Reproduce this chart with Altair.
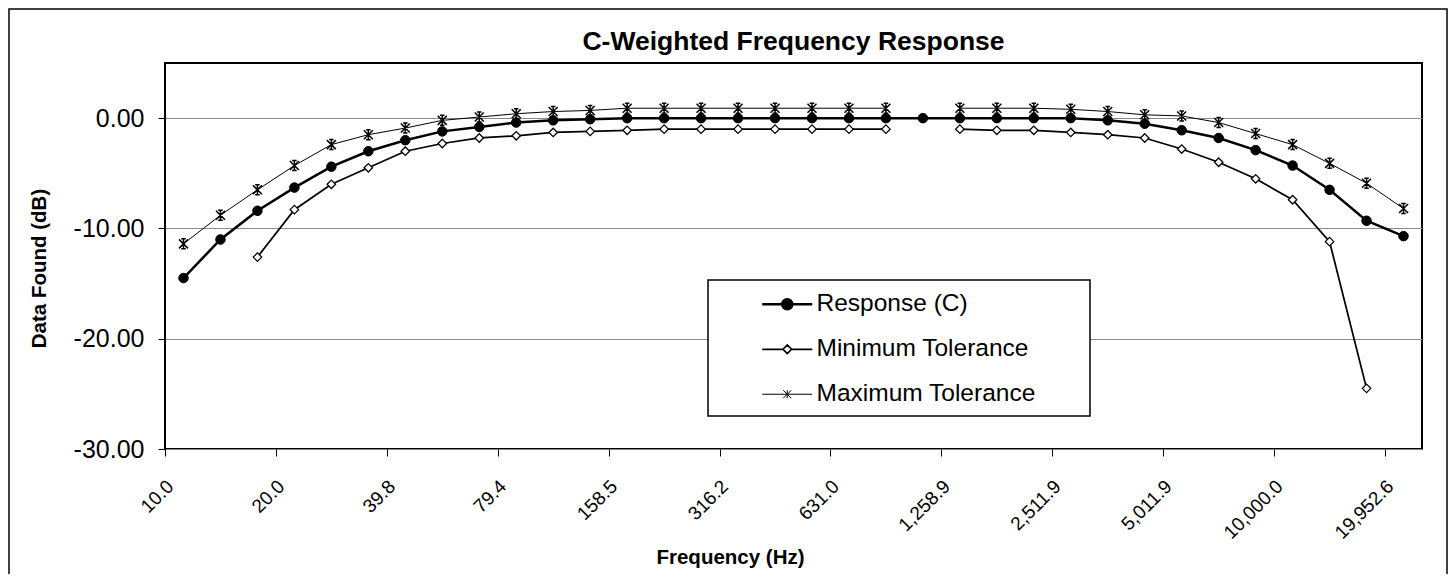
import altair as alt
import pandas as pd

FONT = "Liberation Sans"

freq_labels = ["10.0", "12.6", "15.8", "20.0", "25.1", "31.6", "39.8", "50.1", "63.1",
               "79.4", "100.0", "125.9", "158.5", "199.5", "251.2", "316.2", "398.1",
               "501.2", "631.0", "794.3", "1,000.0", "1,258.9", "1,584.9", "1,995.3",
               "2,511.9", "3,162.3", "3,981.1", "5,011.9", "6,309.6", "7,943.3",
               "10,000.0", "12,589.3", "15,848.9", "19,952.6"]

response = [-14.5, -11.0, -8.4, -6.3, -4.4, -3.0, -2.0, -1.2, -0.8, -0.4, -0.2, -0.1,
            0.0, 0.0, 0.0, 0.0, 0.0, 0.0, 0.0, 0.0, 0.0, 0.0, 0.0, 0.0, 0.0, -0.2,
            -0.5, -1.1, -1.8, -2.9, -4.3, -6.5, -9.3, -10.7]

min_tol = [None, None, -12.6, -8.3, -6.0, -4.5, -3.0, -2.3, -1.8, -1.6, -1.3, -1.2,
           -1.1, -1.0, -1.0, -1.0, -1.0, -1.0, -1.0, -1.0, None, -1.0, -1.1, -1.1,
           -1.3, -1.5, -1.8, -2.8, -4.0, -5.5, -7.4, -11.2, -24.5, None]

max_tol = [-11.4, -8.8, -6.5, -4.3, -2.4, -1.5, -0.9, -0.2, 0.1, 0.4, 0.6, 0.7,
           0.9, 0.9, 0.9, 0.9, 0.9, 0.9, 0.9, 0.9, None, 0.9, 0.9, 0.9, 0.8, 0.6,
           0.3, 0.2, -0.4, -1.4, -2.4, -4.1, -5.9, -8.2]

series_names = ["Response (C)", "Minimum Tolerance", "Maximum Tolerance"]
tick_positions = list(range(0, len(freq_labels), 3))
y_ticks = [0, -10, -20, -30]

rows = []
for name, vals in zip(series_names, [response, min_tol, max_tol]):
    for i, (f, v) in enumerate(zip(freq_labels, vals)):
        rows.append({"freq": f, "idx": i, "series": name, "value": v})
df = pd.DataFrame(rows)

label_array = "[" + ",".join("'" + s + "'" for s in freq_labels) + "]"

# marker shapes (unit = half marker size)
plot_shapes = [
    "M0.95,0A0.95,0.95,0,1,1,-0.95,0A0.95,0.95,0,1,1,0.95,0Z",
    "M-0.85,0L0,-0.85L0.85,0L0,0.85Z",
    "M-0.9,-0.9L0.9,0.9M-0.9,0.9L0.9,-0.9M0,-1V1M-0.45,-1H0.45M-0.45,1H0.45",
]
legend_shapes = [
    "M-5,0H5M1,0A1,1,0,1,1,-1,0A1,1,0,1,1,1,0Z",
    "M-5,0H-0.85M0.85,0H5M-0.85,0L0,-0.85L0.85,0L0,0.85Z",
    "M-5,0H5M-0.8,-0.8L0.8,0.8M-0.8,0.8L0.8,-0.8M0,-0.8V0.8",
]
fills = ["black", "white", "black"]
strokes = ["black", "black", "black"]
widths = [2.5, 1, 1]
marker_widths = [1, 1.5, 1.8]

x_enc = alt.X(
    "pos:Q",
    scale=alt.Scale(domain=[0, len(freq_labels)], nice=False, zero=False),
    axis=alt.Axis(
        values=tick_positions, labelExpr=label_array + "[datum.value]",
        labelAngle=-45, labelAlign="right",
        labelBaseline="middle", labelOffset=5, labelPadding=27, tickSize=7,
        tickColor="black", tickWidth=1, domain=False, grid=False,
        labelFont=FONT, labelFontSize=19, labelColor="black", labelOverlap=False,
        labelBound=False, labelFlush=False,
        title="Frequency (Hz)", titleFont=FONT, titleFontSize=20.5,
        titleFontWeight="bold", titleColor="black", titleX=565, titleY=114,
        titleBaseline="alphabetic", titleAlign="center",
    ),
)
y_enc = alt.Y(
    "value:Q",
    scale=alt.Scale(domain=[-30, 5], nice=False, zero=False),
    axis=alt.Axis(
        values=y_ticks, labelExpr="replace(format(datum.value, '.2f'), '\u2212', '-')",
        tickSize=7, tickColor="black", tickWidth=1, labelPadding=14,
        grid=True, gridColor="#8a8a8a", gridWidth=1, domain=False,
        labelFont=FONT, labelFontSize=25, labelColor="black",
        title="Data Found (dB)", titleFont=FONT, titleFontSize=20.5,
        titleFontWeight="bold", titleColor="black", titleX=-120, titleY=205,
        titleAngle=270, titleBaseline="alphabetic", titleAlign="center",
    ),
)

base = alt.Chart(df).transform_calculate(pos="datum.idx + 0.5")

lines = base.mark_line(color="black", invalid="break-paths-show-domains").encode(
    x=x_enc,
    y=y_enc,
    detail="series:N",
    order=alt.Order("idx:Q"),
    strokeWidth=alt.StrokeWidth(
        "series:N", scale=alt.Scale(domain=series_names, range=widths), legend=None
    ),
)

points = base.mark_point(size=100, opacity=1).encode(
    x=x_enc,
    y=y_enc,
    shape=alt.Shape("series:N", scale=alt.Scale(domain=series_names, range=plot_shapes), legend=None),
    fill=alt.Fill("series:N", scale=alt.Scale(domain=series_names, range=fills), legend=None),
    strokeWidth=alt.StrokeWidth("series:N", scale=alt.Scale(domain=series_names, range=marker_widths), legend=None),
    stroke=alt.value("black"),
)

# legend box (white panel with black border, drawn over the gridlines)
legend_box = alt.Chart(pd.DataFrame({"k": [0]})).mark_rect(
    fill="white", stroke="black", strokeWidth=1.5
).encode(
    x=alt.value(543), x2=alt.value(925), y=alt.value(217), y2=alt.value(353)
)

leg = alt.Legend(
    title=None, orient="none", legendX=543, legendY=217, padding=12, rowPadding=20,
    labelFont=FONT, labelFontSize=24.5, labelColor="black", labelLimit=600,
    labelOffset=17, symbolOffset=55, symbolSize=100, symbolStrokeColor="black",
    symbolOpacity=1, strokeColor="transparent", fillColor="transparent",
)

legend_layer = base.transform_filter("false").mark_point(size=100, opacity=1).encode(
    x=x_enc,
    y=y_enc,
    shape=alt.Shape("series:N", scale=alt.Scale(domain=series_names, range=legend_shapes), legend=leg),
    fill=alt.Fill("series:N", scale=alt.Scale(domain=series_names, range=fills), legend=leg),
    stroke=alt.Stroke("series:N", scale=alt.Scale(domain=series_names, range=strokes), legend=leg),
    strokeWidth=alt.StrokeWidth("series:N", scale=alt.Scale(domain=series_names, range=widths), legend=leg),
)

frame = alt.Chart(pd.DataFrame({"k": [0]})).mark_rect(
    fillOpacity=0, stroke="black", strokeWidth=1.5
).encode(
    x=alt.value(-156), x2=alt.value(1282), y=alt.value(-54), y2=alt.value(520)
)

chart = (
    alt.layer(frame, lines, points, legend_box, legend_layer)
    .resolve_scale(shape="independent", fill="independent", stroke="independent",
                   strokeWidth="independent")
    .properties(
        width=1257,
        height=386,
        title=alt.TitleParams(
            "C-Weighted Frequency Response", font=FONT, fontSize=26.5,
            fontWeight="bold", color="black", anchor="middle", frame="group",
            baseline="alphabetic", offset=0, dy=68,
        ),
        autosize=alt.AutoSizeParams(type="none"),
        padding={"left": 157, "top": 55, "right": 26, "bottom": 125},
    )
    .configure_view(stroke="black", strokeWidth=2)
)

chart.save("out.html", embed_options={"renderer": "svg", "actions": False})
